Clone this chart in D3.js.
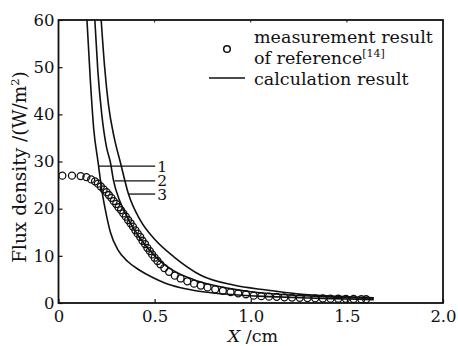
<!DOCTYPE html>
<html>
<head>
<meta charset="utf-8">
<script src="https://cdn.jsdelivr.net/npm/d3@7"></script>
<style>
  body { margin: 0; background: #fff; }
  svg { display: block; font-family: "DejaVu Serif", serif; }
</style>
</head>
<body>
<svg></svg>
<script>
// measured points (reference [14])
const measX = [0.02, 0.07, 0.115, 0.145, 0.17, 0.19, 0.205, 0.22, 0.235, 0.25, 0.262, 0.275, 0.287, 0.3, 0.312, 0.325, 0.337, 0.35, 0.362, 0.375, 0.387, 0.4, 0.412, 0.425, 0.437, 0.45, 0.462, 0.475, 0.487, 0.5, 0.515, 0.53, 0.55, 0.575, 0.605, 0.635, 0.67, 0.705, 0.74, 0.775, 0.815, 0.855, 0.895, 0.935, 0.975, 1.015, 1.055, 1.095, 1.135, 1.175, 1.215, 1.255, 1.295, 1.335, 1.375, 1.415, 1.455, 1.495, 1.535, 1.575, 1.6];
const measY = [27.0, 27.0, 26.9, 26.7, 26.2, 25.8, 25.3, 24.7, 24.1, 23.5, 22.9, 22.3, 21.6, 21.0, 20.3, 19.7, 19.0, 18.3, 17.6, 16.9, 16.2, 15.4, 14.7, 14.0, 13.2, 12.5, 11.7, 11.0, 10.3, 9.6, 8.9, 8.2, 7.4, 6.6, 5.8, 5.2, 4.6, 4.1, 3.7, 3.3, 2.9, 2.6, 2.3, 2.05, 1.85, 1.55, 1.45, 1.35, 1.3, 1.2, 1.15, 1.1, 1.05, 1.0, 0.95, 0.92, 0.9, 0.88, 0.85, 0.82, 0.8];

// calculated curves 1, 2, 3
const calc1X = [0.148, 0.166, 0.183, 0.206, 0.225, 0.244, 0.27, 0.31, 0.36, 0.42, 0.49, 0.556, 0.63, 0.75, 0.9, 1.1, 1.3, 1.5, 1.64];
const calc1Y = [60, 47, 37, 29.8, 24, 19.7, 15, 11.2, 8.8, 7.0, 5.4, 4.2, 3.3, 2.4, 1.8, 1.35, 1.05, 0.85, 0.7];
const calc2X = [0.189, 0.205, 0.225, 0.25, 0.27, 0.286, 0.32, 0.36, 0.42, 0.5, 0.6, 0.7, 0.8, 0.9, 1.0, 1.2, 1.4, 1.64];
const calc2Y = [60, 49, 40, 33, 29.8, 26, 21.5, 18, 14, 10, 6.8, 5.0, 3.8, 3.0, 2.4, 1.7, 1.3, 1.0];
const calc3X = [0.222, 0.24, 0.26, 0.29, 0.322, 0.364, 0.426, 0.5, 0.6, 0.74, 0.91, 1.08, 1.25, 1.45, 1.64];
const calc3Y = [60, 50, 42, 35, 29.8, 23.1, 17.5, 13.5, 9.8, 5.9, 3.8, 2.75, 1.9, 1.4, 1.1];

// curve labels: name, level, start x on the curve
const curveNames = ["1", "2", "3"];
const curveLabelY = [29, 25.9, 23.1];
const curveLabelX0 = [0.207, 0.291, 0.364];
const labelX1 = 0.503;

const xTicks = [0, 0.5, 1.0, 1.5, 2.0];
const yTicks = [0, 10, 20, 30, 40, 50, 60];

const width = 458;
const height = 346;
const mLeft = 58.5, mRight = 443, mTop = 20, mBottom = 303;

const svg = d3.select("svg").attr("width", width).attr("height", height);

const xScale = d3.scaleLinear().domain([0, 2]).range([mLeft, mRight]);
const yScale = d3.scaleLinear().domain([0, 60]).range([mBottom, mTop]);

const zip = (xs, ys) => xs.map((x, i) => [x, ys[i]]);

// axes
const xFmt = (d) => (d === 0 ? "0" : d3.format(".1f")(d));
const xAxis = d3.axisBottom(xScale).tickValues(xTicks)
  .tickFormat(xFmt).tickSizeInner(-4).tickSizeOuter(0).tickPadding(7);

const yAxis = d3.axisLeft(yScale).tickValues(yTicks)
  .tickSizeInner(-4).tickSizeOuter(0).tickPadding(4);

const gx = svg.append("g").attr("transform", `translate(0, ${mBottom})`).call(xAxis);
const gy = svg.append("g").attr("transform", `translate(${mLeft}, 0)`).call(yAxis);
[gx, gy].forEach((g) => {
  g.select(".domain").remove();
  g.selectAll("text").attr("font-family", "DejaVu Serif").attr("font-size", 16.5).attr("fill", "#111");
  g.selectAll("line").attr("stroke", "#111").attr("stroke-width", 1.2);
});

// top ticks
svg.append("g").selectAll("line").data(xTicks.slice(1, 4)).enter().append("line")
  .attr("x1", (d) => xScale(d)).attr("x2", (d) => xScale(d))
  .attr("y1", mTop).attr("y2", mTop + 2.5)
  .attr("stroke", "#111").attr("stroke-width", 1);

// frame
svg.append("rect")
  .attr("x", mLeft).attr("y", mTop)
  .attr("width", mRight - mLeft).attr("height", mBottom - mTop)
  .attr("fill", "none").attr("stroke", "#111").attr("stroke-width", 1.8);

// calculated curves
const line = d3.line()
  .x((d) => xScale(d[0]))
  .y((d) => yScale(d[1]))
  .curve(d3.curveMonotoneX);

[zip(calc1X, calc1Y), zip(calc2X, calc2Y), zip(calc3X, calc3Y)].forEach((c) => {
  svg.append("path").datum(c).attr("d", line)
    .attr("fill", "none").attr("stroke", "#111").attr("stroke-width", 1.6);
});

// measured dots
svg.append("g").selectAll("circle").data(zip(measX, measY)).enter().append("circle")
  .attr("cx", (d) => xScale(d[0]))
  .attr("cy", (d) => yScale(d[1]))
  .attr("r", 3.5)
  .attr("fill", "none").attr("stroke", "#111").attr("stroke-width", 1.3);

// curve labels
curveNames.forEach((n, i) => {
  svg.append("line")
    .attr("x1", xScale(curveLabelX0[i])).attr("x2", xScale(labelX1))
    .attr("y1", yScale(curveLabelY[i])).attr("y2", yScale(curveLabelY[i]))
    .attr("stroke", "#111").attr("stroke-width", 1.3);
  svg.append("text")
    .attr("x", xScale(labelX1) + 2).attr("y", yScale(curveLabelY[i]) + 5.5)
    .attr("font-size", 15.5).attr("fill", "#111").text(n);
});

// legend
const legend = svg.append("g");
legend.append("circle").attr("cx", 227).attr("cy", 49).attr("r", 3.3)
  .attr("fill", "none").attr("stroke", "#111").attr("stroke-width", 1.5);
legend.append("line").attr("x1", 209).attr("x2", 245).attr("y1", 78).attr("y2", 78)
  .attr("stroke", "#111").attr("stroke-width", 1.6);
legend.append("text").attr("x", 254).attr("y", 43).attr("font-size", 17.5).attr("fill", "#111")
  .text("measurement result");
const ref = legend.append("text").attr("x", 254).attr("y", 64).attr("font-size", 17.5).attr("fill", "#111");
ref.append("tspan").text("of reference");
ref.append("tspan").attr("font-size", 11).attr("dy", -7).text("[14]");
legend.append("text").attr("x", 254).attr("y", 85).attr("font-size", 17.5).attr("fill", "#111")
  .text("calculation result");

// axis titles
const xt = svg.append("text").attr("x", 253).attr("y", 342)
  .attr("text-anchor", "middle").attr("font-size", 17.5).attr("fill", "#111");
xt.append("tspan").attr("font-style", "italic").text("X");
xt.append("tspan").text(" /cm");

const yt = svg.append("text")
  .attr("transform", `translate(26, 167) rotate(-90)`)
  .attr("text-anchor", "middle").attr("font-size", 18.5).attr("fill", "#111");
yt.append("tspan").text("Flux density /(W/m");
yt.append("tspan").attr("font-size", 11.5).attr("dy", -7).text("2");
yt.append("tspan").attr("dy", 7).text(")");
</script>
</body>
</html>
